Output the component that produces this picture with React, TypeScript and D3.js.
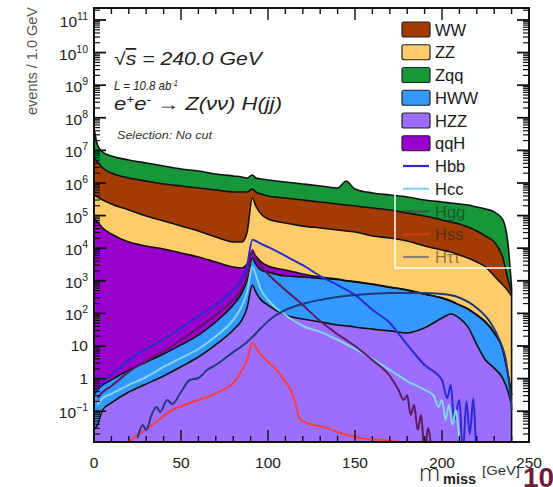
import React from 'react';
import * as d3 from 'd3';

// ---------- data ----------
const massKnots = [0, 2, 5, 10, 20, 30, 40, 50, 60, 70, 80, 85, 88, 91, 93, 96, 100, 110, 120, 130, 140, 145, 148, 150, 160, 170, 180, 190, 200, 205, 210, 215, 220, 225, 230, 235, 238, 240];

const hzzEvents = [0.027, 0.038, 0.11, 0.18, 0.39, 0.68, 1.2, 2.3, 4.6, 11, 31, 63, 150, 740, 450, 260, 180, 89, 67, 55, 44, 41, 40, 38, 33, 29, 25, 36, 72, 96, 72, 38, 11, 3.7, 2.1, 1.0, 0.39, 0.15];
const hwwEvents = [0.29, 0.41, 0.53, 0.73, 1.45, 2.55, 4.5, 8.5, 17, 44, 150, 360, 910, 4260, 2800, 1880, 1680, 1310, 1240, 1120, 1050, 945, 910, 880, 740, 600, 490, 350, 220, 141, 107, 96, 77, 50, 22.6, 6.4, 0.88, 0.16];
const qqhEvents = [84300, 63700, 41700, 27300, 15500, 11700, 9450, 7100, 5350, 3700, 2470, 2050, 2200, 2600, 2500, 1640, 980, 740, 310, 130, 40, 35, 30, 25, 20, 15, 12, 9, 7, 6, 5, 4, 3, 2, 1, 0.3, 0.05, 0.01];
const zzEvents = [345000, 308000, 260000, 200000, 133000, 85600, 58700, 40900, 28300, 18300, 12900, 13000, 28000, 339000, 191000, 108000, 76000, 57000, 46000, 40400, 35000, 32700, 31500, 30500, 22900, 20000, 16100, 11300, 8500, 7400, 6000, 4860, 3690, 2600, 1380, 735, 485, 342];
const wwEvents = [5420000, 4040000, 2580000, 1800000, 1270000, 1050000, 863000, 761000, 669000, 588000, 515000, 515000, 500000, 308000, 333000, 347000, 320000, 288000, 253000, 219000, 191000, 177000, 172000, 166000, 147000, 128000, 103000, 85600, 64500, 56000, 49000, 39700, 29900, 21000, 14100, 4260, 574, 111];
const zqqEvents = [42800000, 10300000, 6050000, 4700000, 3660000, 2950000, 2390000, 1880000, 1630000, 1280000, 1110000, 1000000, 890000, 1100000, 890000, 870000, 840000, 720000, 630000, 550000, 476000, 940000, 605000, 458000, 322000, 280000, 252000, 204000, 188000, 180000, 172000, 166000, 150000, 135000, 114000, 68300, 11400, 148];

const hbbMass = [2, 5, 10, 20, 30, 40, 50, 60, 70, 80, 85, 88, 91, 93, 96, 100, 110, 120, 130, 140, 150, 160, 170, 180, 190, 200, 203, 205, 207, 210, 212, 214, 216, 218, 220, 222];
const hbbEvents = [0.45, 0.79, 1.3, 3.7, 8.1, 16, 36, 83, 180, 520, 1100, 3000, 18000, 16600, 13500, 10900, 5800, 3000, 1400, 740, 370, 130, 51, 11, 2.6, 0.9, 0.25, 0.64, 0.054, 0.22, 0.005, 0.2, 0.02, 0.25, 0.005, 0.005];

const hccMass = [2, 5, 10, 20, 30, 40, 50, 60, 70, 80, 85, 88, 91, 93, 96, 100, 110, 120, 130, 140, 150, 160, 170, 180, 190, 195, 198, 200, 202, 204, 206, 208, 210, 212];
const hccEvents = [0.155, 0.25, 0.34, 0.64, 1.12, 2.27, 4.3, 8.1, 20, 63, 169, 453, 2650, 1500, 523, 258, 89, 41, 27, 15.3, 8.1, 4.0, 1.84, 0.84, 0.45, 0.31, 0.135, 0.22, 0.054, 0.155, 0.038, 0.11, 0.013, 0.005];

const hggMass = [2, 5, 10, 20, 30, 40, 50, 60, 70, 80, 85, 88, 91, 93, 96, 100, 110, 120, 130, 140, 150, 160, 170, 175, 178, 180, 182, 184, 186, 188, 190, 192, 194];
const hggEvents = [0.254, 0.388, 0.593, 1.6, 3.47, 7.0, 15.3, 35.6, 89, 258, 560, 1400, 8800, 5000, 2840, 1620, 523, 181, 58, 23, 10, 3.7, 1.2, 0.45, 0.22, 0.31, 0.076, 0.155, 0.0265, 0.076, 0.005, 0.03, 0.005];

const hssMass = [20, 25, 32, 45, 55, 65, 74, 80, 84, 88, 91, 94, 97, 105, 110, 113, 116, 118, 122, 132, 140, 153, 165, 176];
const hssEvents = [0.0114, 0.0186, 0.0327, 0.109, 0.179, 0.273, 0.447, 0.733, 1.49, 3.72, 12.4, 7.5, 4.6, 1.84, 0.79, 0.45, 0.155, 0.062, 0.0435, 0.0327, 0.023, 0.015, 0.013, 0.0114];

const htautauMass = [25, 28, 30, 33, 36, 38, 42, 45, 50, 55, 60, 65, 70, 74, 80, 85, 88, 91, 96, 103, 110, 122, 130, 140, 151, 170, 189, 200, 209, 215, 220, 228, 233, 237, 239, 240];
const htautauEvents = [0.015, 0.0378, 0.0265, 0.076, 0.135, 0.0946, 0.22, 0.166, 0.388, 0.905, 1.04, 1.84, 2.61, 3.72, 6.5, 10, 13.3, 18.9, 35.6, 77.6, 127, 208, 258, 319, 367, 423, 423, 394, 319, 224, 147, 50.7, 15.3, 3.0, 0.45, 0.11];

const stackNames = ['HZZ', 'HWW', 'qqH', 'ZZ', 'WW', 'Zqq'];
const legendNames = ['WW', 'ZZ', 'Zqq', 'HWW', 'HZZ', 'qqH', 'Hbb', 'Hcc', 'Hgg', 'Hss', 'Hττ'];
const xTickValues = [0, 50, 100, 150, 200, 250];
const yTickExponents = [-1, 0, 1, 2, 3, 4, 5, 6, 7, 8, 9, 10, 11];

const fillColors: Record<string, string> = {
  HZZ: '#9d6dff', HWW: '#3399ff', qqH: '#9900cc', ZZ: '#ffcc6b', WW: '#a33c04', Zqq: '#17973a',
};
const lineColors: Record<string, string> = {
  Hbb: '#2b2bd0', Hcc: '#7fd6e6', Hgg: '#5b1a5f', Hss: '#ff3b3b', 'Hττ': '#1e3a78',
};

const FONT = '"Liberation Sans", Arial, Helvetica, sans-serif';

export default function App() {
  const W = 553, H = 487;
  const L = 94, R = 529, T = 8, B = 442;
  const yMin = 0.01135, yMax = 2.33e11;

  const x = d3.scaleLinear().domain([0, 250]).range([L, R]);
  const y = d3.scaleLog().domain([yMin, yMax]).range([B, T]);
  const cy = (v: number) => y(Math.max(v, yMin * 0.3));

  const rows = massKnots.map((g, i) => ({
    g, HZZ: hzzEvents[i], HWW: hwwEvents[i], qqH: qqhEvents[i], ZZ: zzEvents[i], WW: wwEvents[i], Zqq: zqqEvents[i],
  }));
  const stacked = d3.stack<any>().keys(stackNames)(rows as any);

  const area = d3.area<any>()
    .x((d) => x(d.data.g)).y0((d) => cy(d[0])).y1((d) => cy(d[1]))
    .curve(d3.curveMonotoneX);
  const edge = d3.line<any>()
    .x((d) => x(d.data.g)).y((d) => cy(d[1]))
    .curve(d3.curveMonotoneX);
  const lineGen = d3.line<[number, number]>()
    .x((d) => x(d[0])).y((d) => cy(d[1]))
    .curve(d3.curveMonotoneX);

  const lines = [
    { name: 'Hbb', xs: hbbMass, vs: hbbEvents },
    { name: 'Hcc', xs: hccMass, vs: hccEvents },
    { name: 'Hgg', xs: hggMass, vs: hggEvents },
    { name: 'Hss', xs: hssMass, vs: hssEvents },
    { name: 'Hττ', xs: htautauMass, vs: htautauEvents },
  ];

  const top = stacked[stacked.length - 1];
  const last = top[top.length - 1];

  // ticks
  const xMinor = d3.range(0, 251, 10);
  const yMajor = yTickExponents.map((e) => Math.pow(10, e));
  const yMinor = d3.range(-2, 12)
    .flatMap((e) => d3.range(2, 10).map((m) => m * Math.pow(10, e)))
    .filter((v) => v > yMin && v < yMax);

  // legend
  const legX = 402, legY0 = 29.5, legStep = 22.75;
  const gLeg = x.invert(440);
  const idx = Math.min(d3.bisectLeft(massKnots, gLeg), massKnots.length - 1);
  const fillTopAtLegend = cy(top[idx][1]);

  const yLabel = (e: number) => {
    if (e === 0) return <tspan>1</tspan>;
    if (e === 1) return <tspan>10</tspan>;
    return (
      <>
        <tspan>10</tspan>
        <tspan dy={-7} fontSize={10.5}>{e < 0 ? '−' + Math.abs(e) : String(e)}</tspan>
      </>
    );
  };

  return (
    <svg width={W} height={H} viewBox={`0 0 ${W} ${H}`}
      style={{ position: 'absolute', left: 0, top: 0, fontFamily: FONT, background: '#fff' }}>
      <rect x={0} y={0} width={W} height={H} fill="#fff" />
      <defs>
        <clipPath id="plotClip">
          <rect x={L} y={T} width={R - L} height={B - T} />
        </clipPath>
      </defs>

      <g clipPath="url(#plotClip)">
        {stacked.map((s) => (
          <path key={s.key} d={area(s as any) || ''} fill={fillColors[s.key as string]} stroke="none" />
        ))}
        {stacked.map((s) => (
          <path key={'e' + s.key} d={edge(s as any) || ''} fill="none" stroke="#111" strokeWidth={1.6} />
        ))}
        <line x1={x(last.data.g)} x2={x(last.data.g)} y1={cy(last[1])} y2={B} stroke="#111" strokeWidth={1.6} />
        {lines.map((ln) => (
          <path key={ln.name}
            d={lineGen(ln.xs.map((g, i) => [g, ln.vs[i]] as [number, number])) || ''}
            fill="none" stroke={lineColors[ln.name]} strokeWidth={2} strokeLinejoin="round" />
        ))}
      </g>

      {/* legend frame */}
      <rect x={395} y={15} width={118} height={253} fill="none" stroke="#fff" strokeWidth={1.5} />

      {/* legend */}
      {legendNames.map((n, i) => {
        const cyy = legY0 + i * legStep;
        const dim = cyy > fillTopAtLegend ? 0.5 : 1;
        const isFill = fillColors[n] !== undefined;
        return (
          <g key={n} opacity={dim}>
            {isFill ? (
              <rect x={legX} y={cyy - 7.5} width={28} height={15} rx={2} fill={fillColors[n]} stroke="#222" strokeWidth={1.2} />
            ) : (
              <line x1={legX + 1} x2={legX + 27} y1={cyy} y2={cyy} stroke={lineColors[n]} strokeWidth={2.2} />
            )}
            <text x={435} y={cyy + 6} fontSize={16.5} fill="#1a1a1a">{n}</text>
          </g>
        );
      })}

      {/* frame and ticks */}
      <g stroke="#111">
        {yMajor.map((v) => (
          <g key={'ym' + v}>
            <line x1={L} x2={L + 12} y1={y(v)} y2={y(v)} strokeWidth={1.8} />
            <line x1={R} x2={R - 12} y1={y(v)} y2={y(v)} strokeWidth={1.8} />
          </g>
        ))}
        {yMinor.map((v) => (
          <g key={'yn' + v}>
            <line x1={L} x2={L + 6} y1={y(v)} y2={y(v)} strokeWidth={1.2} />
            <line x1={R} x2={R - 6} y1={y(v)} y2={y(v)} strokeWidth={1.2} />
          </g>
        ))}
        {xMinor.map((g) => {
          const len = g % 50 === 0 ? 12 : 6;
          return (
            <g key={'x' + g}>
              <line x1={x(g)} x2={x(g)} y1={B} y2={B - len} strokeWidth={1.4} />
              <line x1={x(g)} x2={x(g)} y1={T} y2={T + len} strokeWidth={1.4} />
            </g>
          );
        })}
        <rect x={L} y={T} width={R - L} height={B - T} fill="none" strokeWidth={2} />
      </g>

      {/* y tick labels */}
      {yTickExponents.map((e) => (
        <text key={'yl' + e} x={88} y={y(Math.pow(10, e)) + (e > 1 || e < 0 ? 7 : 5.5)}
          fontSize={15.5} fill="#222" textAnchor="end">{yLabel(e)}</text>
      ))}

      {/* x tick labels */}
      {xTickValues.map((g) => (
        <text key={'xl' + g} x={x(g)} y={468} fontSize={15.5} fill="#222" textAnchor="middle">{g}</text>
      ))}

      {/* axis titles */}
      <text transform="translate(37,61) rotate(-90)" fontSize={14.5} fill="#555" textAnchor="middle">events / 1.0 GeV</text>
      <text x={419} y={481} fontSize={24} fill="#222" fontFamily='"Open Sans", sans-serif' fontWeight={300}>m</text>
      <text x={443} y={484} fontSize={14.5} fontWeight="bold" fill="#222">miss</text>
      <text x={482} y={475} fontSize={13} fill="#333" textLength={38} lengthAdjust="spacingAndGlyphs">[GeV]</text>
      <text x={523} y={487} fontSize={28} fontWeight="bold" fill="#6e1a3a">10</text>

      {/* annotations */}
      <text x={114} y={65} fontSize={18} fontStyle="italic" fill="#222" textLength={148} lengthAdjust="spacingAndGlyphs">
        √<tspan textDecoration="overline">s</tspan> = 240.0 GeV
      </text>
      <text x={114} y={90} fontSize={13} fontStyle="italic" fill="#222" textLength={64} lengthAdjust="spacingAndGlyphs">
        L = 10.8 ab<tspan dy={-4} fontSize={8.5}>-1</tspan>
      </text>
      <text x={114} y={110} fontSize={18} fontStyle="italic" fill="#222" textLength={168} lengthAdjust="spacingAndGlyphs">
        e<tspan dy={-7} fontSize={11}>+</tspan><tspan dy={7}>e</tspan><tspan dy={-7} fontSize={11}>-</tspan><tspan dy={7}> → Z(νν) H(jj)</tspan>
      </text>
      <text x={117} y={139} fontSize={11} fontStyle="italic" fill="#333" textLength={95} lengthAdjust="spacingAndGlyphs">
        Selection: No cut
      </text>
    </svg>
  );
}
